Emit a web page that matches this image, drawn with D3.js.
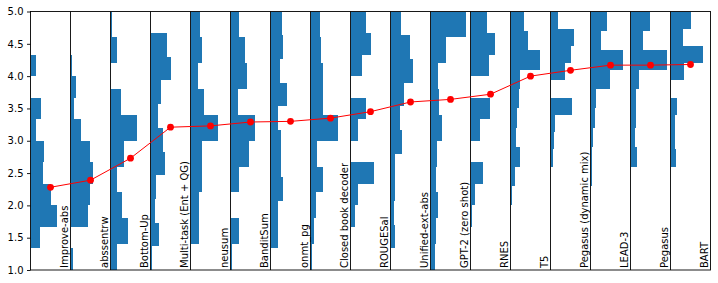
<!DOCTYPE html>
<html>
<head>
<meta charset="utf-8">
<script src="https://cdn.jsdelivr.net/npm/d3@7"></script>
<style>
  body { margin: 0; background: #fff; }
  text { font-family: "DejaVu Sans", sans-serif; }
</style>
</head>
<body>
<div id="chart"></div>
<script>
// histogram per system (bars grow right from each column's left edge) + red mean line

const systems = ["Improve-abs", "abssentrw", "Bottom-Up", "Multi-task (Ent + QG)", "neusum",
  "BanditSum", "onmt_pg", "Closed book decoder", "ROUGESal", "Unified-ext-abs",
  "GPT-2 (zero shot)", "RNES", "T5", "Pegasus (dynamic mix)", "LEAD-3", "Pegasus", "BART"];

const means = [2.28, 2.39, 2.73, 3.21, 3.23, 3.29, 3.30, 3.35, 3.45, 3.60,
  3.64, 3.72, 4.00, 4.09, 4.17, 4.17, 4.18];

// lower edge of first bin and bin width, per system
const binStart = [4/3, 1, 1, 1, 1, 1, 4/3, 1, 5/3, 4/3, 1, 5/3, 2, 2.6, 2, 2.6, 2.6];
const binStep = [1/3, 1/3, 0.4, 11/30, 0.4, 0.4, 11/30, 0.4, 1/3, 11/30, 0.4, 1/3, 0.3, 4/15, 0.3, 0.3, 4/15];

// bin counts from the lowest bin upwards
const counts = [
  [9, 26, 20, 12, 13, 5, 10, 0, 5],
  [2, 0, 17, 19, 22, 19, 10.7, 3.3, 5, 1],
  [6.3, 17.3, 11.7, 6.3, 13.3, 26.3, 10, 0, 6.3, 1.7],
  [1, 8, 4, 5.7, 14, 12.3, 7.3, 10, 20, 16.3],
  [0, 8, 8.5, 11, 11.5, 27, 13.3, 7, 11, 9],
  [1, 8.5, 0.5, 8.5, 18, 24, 7.3, 16.5, 14, 8.3],
  [7.3, 7.3, 12.3, 10, 10, 7.3, 16.3, 9, 12.3, 11.3],
  [1, 3.5, 5.5, 12.3, 6, 27.3, 12, 12.5, 10.5, 9],
  [4.3, 7.7, 23.3, 0, 7.7, 15, 0, 11.7, 20, 15],
  [4, 3.3, 4.7, 4.7, 11.3, 9, 13.3, 22.3, 19, 10],
  [4, 5, 7.3, 5, 6.3, 11.3, 8.3, 7.3, 15, 35],
  [1, 4, 12, 0, 9.7, 19, 0, 18, 24, 16],
  [1.3, 4, 9, 5.7, 6.3, 8, 9, 29, 17.3, 13],
  [2, 3.3, 4.7, 21.3, 0, 14.7, 20, 23.7, 7.3],
  [0.5, 1.3, 1.8, 2.5, 4.3, 5.7, 19.3, 32.7, 10.7, 16],
  [6.7, 4, 5, 5.7, 8.3, 36.7, 12.7, 19.3],
  [5.7, 4.3, 4.3, 6.7, 0, 13.3, 32.7, 12.3, 20]
];

const yTicks = [1.0, 1.5, 2.0, 2.5, 3.0, 3.5, 4.0, 4.5, 5.0];

var width = 718;
var height = 283;
var margin = {top: 11.5, right: 7.5, bottom: 13, left: 30.5};
var innerW = width - margin.left - margin.right;
var innerH = height - margin.top - margin.bottom;

var svg = d3.select("#chart").append("svg")
    .attr("width", width)
    .attr("height", height);

svg.append("rect")
  .attr("width", width)
  .attr("height", height)
  .attr("fill", "white");

var g = svg.append("g")
    .attr("transform", "translate(" + margin.left + "," + margin.top + ")");

var x = d3.scaleBand()
    .domain(systems)
    .range([0, innerW]);

var y = d3.scaleLinear()
    .domain([1, 5])
    .range([innerH, 0]);

var colW = x.bandwidth();

var countScale = d3.scaleLinear()
    .domain([0, 40])
    .range([0, colW]);

// histograms
systems.forEach(function(name, i) {
  var bins = counts[i].map(function(c, k) {
    return {lo: binStart[i] + k * binStep[i], hi: binStart[i] + (k + 1) * binStep[i], c: c};
  });
  g.append("g")
    .attr("class", "hist")
    .attr("transform", "translate(" + x(name) + ",0)")
    .selectAll("rect")
    .data(bins.filter(function(b) { return b.c > 0; }))
    .enter().append("rect")
      .attr("x", 0)
      .attr("y", function(b) { return y(b.hi); })
      .attr("width", function(b) { return countScale(b.c); })
      .attr("height", function(b) { return y(b.lo) - y(b.hi); })
      .attr("fill", "#1f77b4")
      .attr("shape-rendering", "crispEdges");
});

// system names, rotated, inside each column
g.append("g")
  .selectAll("text")
  .data(systems)
  .enter().append("text")
    .attr("transform", function(d) {
      return "translate(" + (x(d) + colW * 0.935) + "," + (innerH - 2) + ") rotate(-90)";
    })
    .attr("font-size", "10px")
    .attr("fill", "black")
    .text(function(d) { return d; });

// column dividers and frame
g.append("g")
  .selectAll("line")
  .data(systems.slice(1))
  .enter().append("line")
    .attr("x1", function(d) { return x(d); })
    .attr("x2", function(d) { return x(d); })
    .attr("y1", 0)
    .attr("y2", innerH)
    .attr("stroke", "black")
    .attr("stroke-width", 0.9);

g.append("rect")
  .attr("width", innerW)
  .attr("height", innerH)
  .attr("fill", "none")
  .attr("stroke", "black")
  .attr("stroke-width", 0.9);

// y axis
var yAxis = d3.axisLeft(y)
    .tickValues(yTicks)
    .tickFormat(d3.format(".1f"))
    .tickSize(3.5)
    .tickPadding(3.5);

var ya = g.append("g").call(yAxis);
ya.select(".domain").remove();
ya.selectAll("line").attr("stroke", "black").attr("stroke-width", 0.9);
ya.selectAll("text")
  .attr("font-size", "10px")
  .attr("font-family", "DejaVu Sans, sans-serif")
  .attr("fill", "black");

// means
var line = d3.line()
    .x(function(d, i) { return x(systems[i]) + colW / 2; })
    .y(function(d) { return y(d); });

g.append("path")
  .datum(means)
  .attr("d", line)
  .attr("fill", "none")
  .attr("stroke", "red")
  .attr("stroke-width", 1);

g.append("g")
  .selectAll("circle")
  .data(means)
  .enter().append("circle")
    .attr("cx", function(d, i) { return x(systems[i]) + colW / 2; })
    .attr("cy", function(d) { return y(d); })
    .attr("r", 3.4)
    .attr("fill", "red");
</script>
</body>
</html>
